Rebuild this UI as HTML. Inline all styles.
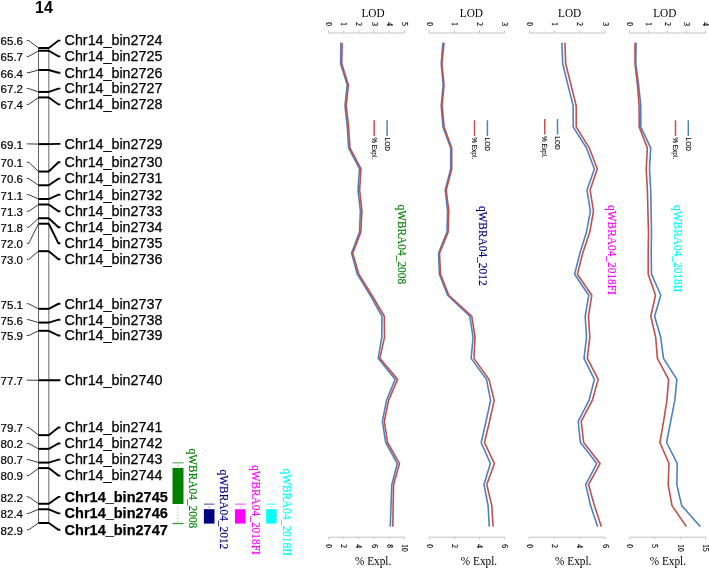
<!DOCTYPE html>
<html><head><meta charset="utf-8"><title>Linkage map chr14</title>
<style>
html,body{margin:0;padding:0;background:#fff;}
body{width:709px;height:568px;overflow:hidden;}
svg{display:block;will-change:transform;}
</style></head>
<body>
<svg width="709" height="568" viewBox="0 0 709 568">
<rect width="709" height="568" fill="#fff"/>
<text x="44" y="12.7" font-family='"Liberation Sans", sans-serif' font-weight="bold" font-size="16" text-anchor="middle">14</text>
<line x1="38.5" y1="48.00" x2="38.5" y2="523.00" stroke="#626262" stroke-width="1"/>
<line x1="48.8" y1="48.00" x2="48.8" y2="523.00" stroke="#777" stroke-width="1.1"/>
<line x1="38.5" y1="48.00" x2="49.0" y2="48.00" stroke="#000" stroke-width="2.0"/>
<polyline points="26.8,40.60 28.8,40.60 38.5,48.00" fill="none" stroke="#222" stroke-width="0.9"/>
<polyline points="48.8,48.00 58.4,40.60 60.4,40.60" fill="none" stroke="#000" stroke-width="1.9"/>
<text x="23.0" y="45.4" font-family='"Liberation Sans", sans-serif' font-size="11.5" text-anchor="end" stroke="#000" stroke-width="0.2">65.6</text>
<text x="64.6" y="45.4" font-family='"Liberation Sans", sans-serif' font-size="14.3" stroke="#000" stroke-width="0.25">Chr14_bin2724</text>
<line x1="38.5" y1="50.75" x2="49.0" y2="50.75" stroke="#000" stroke-width="2.0"/>
<polyline points="26.8,56.40 28.8,56.40 38.5,50.75" fill="none" stroke="#222" stroke-width="0.9"/>
<polyline points="48.8,50.75 58.4,56.40 60.4,56.40" fill="none" stroke="#000" stroke-width="1.9"/>
<text x="23.0" y="61.2" font-family='"Liberation Sans", sans-serif' font-size="11.5" text-anchor="end" stroke="#000" stroke-width="0.2">65.7</text>
<text x="64.6" y="61.2" font-family='"Liberation Sans", sans-serif' font-size="14.3" stroke="#000" stroke-width="0.25">Chr14_bin2725</text>
<line x1="38.5" y1="69.97" x2="49.0" y2="69.97" stroke="#000" stroke-width="2.0"/>
<polyline points="26.8,72.70 28.8,72.70 38.5,69.97" fill="none" stroke="#222" stroke-width="0.9"/>
<polyline points="48.8,69.97 58.4,72.70 60.4,72.70" fill="none" stroke="#000" stroke-width="1.9"/>
<text x="23.0" y="77.5" font-family='"Liberation Sans", sans-serif' font-size="11.5" text-anchor="end" stroke="#000" stroke-width="0.2">66.4</text>
<text x="64.6" y="77.5" font-family='"Liberation Sans", sans-serif' font-size="14.3" stroke="#000" stroke-width="0.25">Chr14_bin2726</text>
<line x1="38.5" y1="91.93" x2="49.0" y2="91.93" stroke="#000" stroke-width="2.0"/>
<polyline points="26.8,88.60 28.8,88.60 38.5,91.93" fill="none" stroke="#222" stroke-width="0.9"/>
<polyline points="48.8,91.93 58.4,88.60 60.4,88.60" fill="none" stroke="#000" stroke-width="1.9"/>
<text x="23.0" y="93.4" font-family='"Liberation Sans", sans-serif' font-size="11.5" text-anchor="end" stroke="#000" stroke-width="0.2">67.2</text>
<text x="64.6" y="93.4" font-family='"Liberation Sans", sans-serif' font-size="14.3" stroke="#000" stroke-width="0.25">Chr14_bin2727</text>
<line x1="38.5" y1="97.42" x2="49.0" y2="97.42" stroke="#000" stroke-width="2.0"/>
<polyline points="26.8,104.40 28.8,104.40 38.5,97.42" fill="none" stroke="#222" stroke-width="0.9"/>
<polyline points="48.8,97.42 58.4,104.40 60.4,104.40" fill="none" stroke="#000" stroke-width="1.9"/>
<text x="23.0" y="109.2" font-family='"Liberation Sans", sans-serif' font-size="11.5" text-anchor="end" stroke="#000" stroke-width="0.2">67.4</text>
<text x="64.6" y="109.2" font-family='"Liberation Sans", sans-serif' font-size="14.3" stroke="#000" stroke-width="0.25">Chr14_bin2728</text>
<line x1="38.5" y1="144.10" x2="49.0" y2="144.10" stroke="#000" stroke-width="2.0"/>
<polyline points="26.8,143.90 28.8,143.90 38.5,144.10" fill="none" stroke="#222" stroke-width="0.9"/>
<polyline points="48.8,144.10 58.4,143.90 60.4,143.90" fill="none" stroke="#000" stroke-width="1.9"/>
<text x="23.0" y="148.7" font-family='"Liberation Sans", sans-serif' font-size="11.5" text-anchor="end" stroke="#000" stroke-width="0.2">69.1</text>
<text x="64.6" y="148.7" font-family='"Liberation Sans", sans-serif' font-size="14.3" stroke="#000" stroke-width="0.25">Chr14_bin2729</text>
<line x1="38.5" y1="171.55" x2="49.0" y2="171.55" stroke="#000" stroke-width="2.0"/>
<polyline points="26.8,162.30 28.8,162.30 38.5,171.55" fill="none" stroke="#222" stroke-width="0.9"/>
<polyline points="48.8,171.55 58.4,162.30 60.4,162.30" fill="none" stroke="#000" stroke-width="1.9"/>
<text x="23.0" y="167.1" font-family='"Liberation Sans", sans-serif' font-size="11.5" text-anchor="end" stroke="#000" stroke-width="0.2">70.1</text>
<text x="64.6" y="167.1" font-family='"Liberation Sans", sans-serif' font-size="14.3" stroke="#000" stroke-width="0.25">Chr14_bin2730</text>
<line x1="38.5" y1="185.28" x2="49.0" y2="185.28" stroke="#000" stroke-width="2.0"/>
<polyline points="26.8,178.60 28.8,178.60 38.5,185.28" fill="none" stroke="#222" stroke-width="0.9"/>
<polyline points="48.8,185.28 58.4,178.60 60.4,178.60" fill="none" stroke="#000" stroke-width="1.9"/>
<text x="23.0" y="183.4" font-family='"Liberation Sans", sans-serif' font-size="11.5" text-anchor="end" stroke="#000" stroke-width="0.2">70.6</text>
<text x="64.6" y="183.4" font-family='"Liberation Sans", sans-serif' font-size="14.3" stroke="#000" stroke-width="0.25">Chr14_bin2731</text>
<line x1="38.5" y1="199.01" x2="49.0" y2="199.01" stroke="#000" stroke-width="2.0"/>
<polyline points="26.8,194.70 28.8,194.70 38.5,199.01" fill="none" stroke="#222" stroke-width="0.9"/>
<polyline points="48.8,199.01 58.4,194.70 60.4,194.70" fill="none" stroke="#000" stroke-width="1.9"/>
<text x="23.0" y="199.5" font-family='"Liberation Sans", sans-serif' font-size="11.5" text-anchor="end" stroke="#000" stroke-width="0.2">71.1</text>
<text x="64.6" y="199.5" font-family='"Liberation Sans", sans-serif' font-size="14.3" stroke="#000" stroke-width="0.25">Chr14_bin2732</text>
<line x1="38.5" y1="204.50" x2="49.0" y2="204.50" stroke="#000" stroke-width="2.0"/>
<polyline points="26.8,211.20 28.8,211.20 38.5,204.50" fill="none" stroke="#222" stroke-width="0.9"/>
<polyline points="48.8,204.50 58.4,211.20 60.4,211.20" fill="none" stroke="#000" stroke-width="1.9"/>
<text x="23.0" y="216.0" font-family='"Liberation Sans", sans-serif' font-size="11.5" text-anchor="end" stroke="#000" stroke-width="0.2">71.3</text>
<text x="64.6" y="216.0" font-family='"Liberation Sans", sans-serif' font-size="14.3" stroke="#000" stroke-width="0.25">Chr14_bin2733</text>
<line x1="38.5" y1="218.23" x2="49.0" y2="218.23" stroke="#000" stroke-width="2.0"/>
<polyline points="26.8,227.20 28.8,227.20 38.5,218.23" fill="none" stroke="#222" stroke-width="0.9"/>
<polyline points="48.8,218.23 58.4,227.20 60.4,227.20" fill="none" stroke="#000" stroke-width="1.9"/>
<text x="23.0" y="232.0" font-family='"Liberation Sans", sans-serif' font-size="11.5" text-anchor="end" stroke="#000" stroke-width="0.2">71.8</text>
<text x="64.6" y="232.0" font-family='"Liberation Sans", sans-serif' font-size="14.3" stroke="#000" stroke-width="0.25">Chr14_bin2734</text>
<line x1="38.5" y1="223.72" x2="49.0" y2="223.72" stroke="#000" stroke-width="2.0"/>
<polyline points="26.8,243.30 28.8,243.30 38.5,223.72" fill="none" stroke="#222" stroke-width="0.9"/>
<polyline points="48.8,223.72 58.4,243.30 60.4,243.30" fill="none" stroke="#000" stroke-width="1.9"/>
<text x="23.0" y="248.1" font-family='"Liberation Sans", sans-serif' font-size="11.5" text-anchor="end" stroke="#000" stroke-width="0.2">72.0</text>
<text x="64.6" y="248.1" font-family='"Liberation Sans", sans-serif' font-size="14.3" stroke="#000" stroke-width="0.25">Chr14_bin2735</text>
<line x1="38.5" y1="251.18" x2="49.0" y2="251.18" stroke="#000" stroke-width="2.0"/>
<polyline points="26.8,259.30 28.8,259.30 38.5,251.18" fill="none" stroke="#222" stroke-width="0.9"/>
<polyline points="48.8,251.18 58.4,259.30 60.4,259.30" fill="none" stroke="#000" stroke-width="1.9"/>
<text x="23.0" y="264.1" font-family='"Liberation Sans", sans-serif' font-size="11.5" text-anchor="end" stroke="#000" stroke-width="0.2">73.0</text>
<text x="64.6" y="264.1" font-family='"Liberation Sans", sans-serif' font-size="14.3" stroke="#000" stroke-width="0.25">Chr14_bin2736</text>
<line x1="38.5" y1="308.84" x2="49.0" y2="308.84" stroke="#000" stroke-width="2.0"/>
<polyline points="26.8,303.80 28.8,303.80 38.5,308.84" fill="none" stroke="#222" stroke-width="0.9"/>
<polyline points="48.8,308.84 58.4,303.80 60.4,303.80" fill="none" stroke="#000" stroke-width="1.9"/>
<text x="23.0" y="308.6" font-family='"Liberation Sans", sans-serif' font-size="11.5" text-anchor="end" stroke="#000" stroke-width="0.2">75.1</text>
<text x="64.6" y="308.6" font-family='"Liberation Sans", sans-serif' font-size="14.3" stroke="#000" stroke-width="0.25">Chr14_bin2737</text>
<line x1="38.5" y1="322.57" x2="49.0" y2="322.57" stroke="#000" stroke-width="2.0"/>
<polyline points="26.8,319.70 28.8,319.70 38.5,322.57" fill="none" stroke="#222" stroke-width="0.9"/>
<polyline points="48.8,322.57 58.4,319.70 60.4,319.70" fill="none" stroke="#000" stroke-width="1.9"/>
<text x="23.0" y="324.5" font-family='"Liberation Sans", sans-serif' font-size="11.5" text-anchor="end" stroke="#000" stroke-width="0.2">75.6</text>
<text x="64.6" y="324.5" font-family='"Liberation Sans", sans-serif' font-size="14.3" stroke="#000" stroke-width="0.25">Chr14_bin2738</text>
<line x1="38.5" y1="330.80" x2="49.0" y2="330.80" stroke="#000" stroke-width="2.0"/>
<polyline points="26.8,335.50 28.8,335.50 38.5,330.80" fill="none" stroke="#222" stroke-width="0.9"/>
<polyline points="48.8,330.80 58.4,335.50 60.4,335.50" fill="none" stroke="#000" stroke-width="1.9"/>
<text x="23.0" y="340.3" font-family='"Liberation Sans", sans-serif' font-size="11.5" text-anchor="end" stroke="#000" stroke-width="0.2">75.9</text>
<text x="64.6" y="340.3" font-family='"Liberation Sans", sans-serif' font-size="14.3" stroke="#000" stroke-width="0.25">Chr14_bin2739</text>
<line x1="38.5" y1="380.23" x2="49.0" y2="380.23" stroke="#000" stroke-width="2.0"/>
<polyline points="26.8,380.20 28.8,380.20 38.5,380.23" fill="none" stroke="#222" stroke-width="0.9"/>
<polyline points="48.8,380.23 58.4,380.20 60.4,380.20" fill="none" stroke="#000" stroke-width="1.9"/>
<text x="23.0" y="385.0" font-family='"Liberation Sans", sans-serif' font-size="11.5" text-anchor="end" stroke="#000" stroke-width="0.2">77.7</text>
<text x="64.6" y="385.0" font-family='"Liberation Sans", sans-serif' font-size="14.3" stroke="#000" stroke-width="0.25">Chr14_bin2740</text>
<line x1="38.5" y1="435.14" x2="49.0" y2="435.14" stroke="#000" stroke-width="2.0"/>
<polyline points="26.8,427.50 28.8,427.50 38.5,435.14" fill="none" stroke="#222" stroke-width="0.9"/>
<polyline points="48.8,435.14 58.4,427.50 60.4,427.50" fill="none" stroke="#000" stroke-width="1.9"/>
<text x="23.0" y="432.3" font-family='"Liberation Sans", sans-serif' font-size="11.5" text-anchor="end" stroke="#000" stroke-width="0.2">79.7</text>
<text x="64.6" y="432.3" font-family='"Liberation Sans", sans-serif' font-size="14.3" stroke="#000" stroke-width="0.25">Chr14_bin2741</text>
<line x1="38.5" y1="448.87" x2="49.0" y2="448.87" stroke="#000" stroke-width="2.0"/>
<polyline points="26.8,443.50 28.8,443.50 38.5,448.87" fill="none" stroke="#222" stroke-width="0.9"/>
<polyline points="48.8,448.87 58.4,443.50 60.4,443.50" fill="none" stroke="#000" stroke-width="1.9"/>
<text x="23.0" y="448.3" font-family='"Liberation Sans", sans-serif' font-size="11.5" text-anchor="end" stroke="#000" stroke-width="0.2">80.2</text>
<text x="64.6" y="448.3" font-family='"Liberation Sans", sans-serif' font-size="14.3" stroke="#000" stroke-width="0.25">Chr14_bin2742</text>
<line x1="38.5" y1="462.60" x2="49.0" y2="462.60" stroke="#000" stroke-width="2.0"/>
<polyline points="26.8,459.60 28.8,459.60 38.5,462.60" fill="none" stroke="#222" stroke-width="0.9"/>
<polyline points="48.8,462.60 58.4,459.60 60.4,459.60" fill="none" stroke="#000" stroke-width="1.9"/>
<text x="23.0" y="464.4" font-family='"Liberation Sans", sans-serif' font-size="11.5" text-anchor="end" stroke="#000" stroke-width="0.2">80.7</text>
<text x="64.6" y="464.4" font-family='"Liberation Sans", sans-serif' font-size="14.3" stroke="#000" stroke-width="0.25">Chr14_bin2743</text>
<line x1="38.5" y1="468.09" x2="49.0" y2="468.09" stroke="#000" stroke-width="2.0"/>
<polyline points="26.8,475.60 28.8,475.60 38.5,468.09" fill="none" stroke="#222" stroke-width="0.9"/>
<polyline points="48.8,468.09 58.4,475.60 60.4,475.60" fill="none" stroke="#000" stroke-width="1.9"/>
<text x="23.0" y="480.4" font-family='"Liberation Sans", sans-serif' font-size="11.5" text-anchor="end" stroke="#000" stroke-width="0.2">80.9</text>
<text x="64.6" y="480.4" font-family='"Liberation Sans", sans-serif' font-size="14.3" stroke="#000" stroke-width="0.25">Chr14_bin2744</text>
<line x1="38.5" y1="503.78" x2="49.0" y2="503.78" stroke="#000" stroke-width="2.0"/>
<polyline points="26.8,496.90 28.8,496.90 38.5,503.78" fill="none" stroke="#222" stroke-width="0.9"/>
<polyline points="48.8,503.78 58.4,496.90 60.4,496.90" fill="none" stroke="#000" stroke-width="1.9"/>
<text x="23.0" y="501.7" font-family='"Liberation Sans", sans-serif' font-size="11.5" text-anchor="end" stroke="#000" stroke-width="0.2">82.2</text>
<text x="64.6" y="501.7" font-family='"Liberation Sans", sans-serif' font-size="14.5" font-weight="bold" stroke="#000" stroke-width="0.25">Chr14_bin2745</text>
<line x1="38.5" y1="509.27" x2="49.0" y2="509.27" stroke="#000" stroke-width="2.0"/>
<polyline points="26.8,513.40 28.8,513.40 38.5,509.27" fill="none" stroke="#222" stroke-width="0.9"/>
<polyline points="48.8,509.27 58.4,513.40 60.4,513.40" fill="none" stroke="#000" stroke-width="1.9"/>
<text x="23.0" y="518.2" font-family='"Liberation Sans", sans-serif' font-size="11.5" text-anchor="end" stroke="#000" stroke-width="0.2">82.4</text>
<text x="64.6" y="518.2" font-family='"Liberation Sans", sans-serif' font-size="14.5" font-weight="bold" stroke="#000" stroke-width="0.25">Chr14_bin2746</text>
<line x1="38.5" y1="523.00" x2="49.0" y2="523.00" stroke="#000" stroke-width="2.0"/>
<polyline points="26.8,529.70 28.8,529.70 38.5,523.00" fill="none" stroke="#222" stroke-width="0.9"/>
<polyline points="48.8,523.00 58.4,529.70 60.4,529.70" fill="none" stroke="#000" stroke-width="1.9"/>
<text x="23.0" y="534.5" font-family='"Liberation Sans", sans-serif' font-size="11.5" text-anchor="end" stroke="#000" stroke-width="0.2">82.9</text>
<text x="64.6" y="534.5" font-family='"Liberation Sans", sans-serif' font-size="14.5" font-weight="bold" stroke="#000" stroke-width="0.25">Chr14_bin2747</text>
<line x1="172.5" y1="462.8" x2="183.5" y2="462.8" stroke="#008000" stroke-opacity="0.5" stroke-width="1.5"/>
<rect x="177.50" y="465.20" width="1" height="1" fill="#008000" fill-opacity="0.7"/>
<rect x="172.5" y="467.9" width="11.00" height="36.10" fill="#008000"/>
<rect x="177.50" y="506.40" width="1" height="1" fill="#008000" fill-opacity="0.45"/>
<rect x="177.50" y="509.30" width="1" height="1" fill="#008000" fill-opacity="0.45"/>
<rect x="177.50" y="512.20" width="1" height="1" fill="#008000" fill-opacity="0.45"/>
<rect x="177.50" y="515.10" width="1" height="1" fill="#008000" fill-opacity="0.45"/>
<rect x="177.50" y="518.00" width="1" height="1" fill="#008000" fill-opacity="0.45"/>
<rect x="177.50" y="520.90" width="1" height="1" fill="#008000" fill-opacity="0.45"/>
<line x1="172.5" y1="523.5" x2="183.5" y2="523.5" stroke="#008000" stroke-opacity="0.8" stroke-width="1.3"/>
<line x1="203.9" y1="504.2" x2="214.5" y2="504.2" stroke="#000080" stroke-opacity="0.5" stroke-width="1.5"/>
<rect x="208.70" y="506.60" width="1" height="1" fill="#000080" fill-opacity="0.7"/>
<rect x="203.9" y="509.2" width="10.60" height="14.40" fill="#000080"/>
<line x1="235.0" y1="504.2" x2="245.5" y2="504.2" stroke="#ff00ff" stroke-opacity="0.5" stroke-width="1.5"/>
<rect x="239.75" y="506.60" width="1" height="1" fill="#ff00ff" fill-opacity="0.7"/>
<rect x="235.0" y="509.2" width="10.50" height="14.40" fill="#ff00ff"/>
<line x1="266.2" y1="504.2" x2="276.6" y2="504.2" stroke="#00ffff" stroke-opacity="0.5" stroke-width="1.5"/>
<rect x="270.90" y="506.60" width="1" height="1" fill="#00ffff" fill-opacity="0.7"/>
<rect x="266.2" y="509.2" width="10.40" height="14.40" fill="#00ffff"/>
<text transform="translate(193.00,448.60) rotate(90) scale(1,1.05)" font-family='"Liberation Serif", serif' font-size="11.4" fill="#008000" stroke="#008000" stroke-width="0.15" text-anchor="start" dominant-baseline="central">qWBRA04_2008</text>
<text transform="translate(223.80,469.60) rotate(90) scale(1,1.05)" font-family='"Liberation Serif", serif' font-size="11.4" fill="#000080" stroke="#000080" stroke-width="0.15" text-anchor="start" dominant-baseline="central">qWBRA04_2012</text>
<text transform="translate(255.60,465.00) rotate(90) scale(1,1.05)" font-family='"Liberation Serif", serif' font-size="11.4" fill="#ff00ff" stroke="#ff00ff" stroke-width="0.15" text-anchor="start" dominant-baseline="central">qWBRA04_2018FI</text>
<text transform="translate(286.80,468.50) rotate(90) scale(1,1.05)" font-family='"Liberation Serif", serif' font-size="11.4" fill="#00ffff" stroke="#00ffff" stroke-width="0.15" text-anchor="start" dominant-baseline="central">qWBRA04_2018II</text>
<line x1="328.6" y1="33.0" x2="404.5" y2="33.0" stroke="#c4c4c4" stroke-width="1"/>
<line x1="328.60" y1="30.4" x2="328.60" y2="33.0" stroke="#c4c4c4" stroke-width="1"/>
<text transform="translate(328.60,26.0) rotate(90)" font-family='"Liberation Serif", serif' font-size="7.4" fill="#000" stroke="#000" stroke-width="0.2" text-anchor="end" dominant-baseline="central">0</text>
<line x1="343.78" y1="30.4" x2="343.78" y2="33.0" stroke="#c4c4c4" stroke-width="1"/>
<text transform="translate(343.78,26.0) rotate(90)" font-family='"Liberation Serif", serif' font-size="7.4" fill="#000" stroke="#000" stroke-width="0.2" text-anchor="end" dominant-baseline="central">1</text>
<line x1="358.96" y1="30.4" x2="358.96" y2="33.0" stroke="#c4c4c4" stroke-width="1"/>
<text transform="translate(358.96,26.0) rotate(90)" font-family='"Liberation Serif", serif' font-size="7.4" fill="#000" stroke="#000" stroke-width="0.2" text-anchor="end" dominant-baseline="central">2</text>
<line x1="374.14" y1="30.4" x2="374.14" y2="33.0" stroke="#c4c4c4" stroke-width="1"/>
<text transform="translate(374.14,26.0) rotate(90)" font-family='"Liberation Serif", serif' font-size="7.4" fill="#000" stroke="#000" stroke-width="0.2" text-anchor="end" dominant-baseline="central">3</text>
<line x1="389.32" y1="30.4" x2="389.32" y2="33.0" stroke="#c4c4c4" stroke-width="1"/>
<text transform="translate(389.32,26.0) rotate(90)" font-family='"Liberation Serif", serif' font-size="7.4" fill="#000" stroke="#000" stroke-width="0.2" text-anchor="end" dominant-baseline="central">4</text>
<line x1="404.50" y1="30.4" x2="404.50" y2="33.0" stroke="#c4c4c4" stroke-width="1"/>
<text transform="translate(404.50,26.0) rotate(90)" font-family='"Liberation Serif", serif' font-size="7.4" fill="#000" stroke="#000" stroke-width="0.2" text-anchor="end" dominant-baseline="central">5</text>
<text transform="translate(373.00,17.1) scale(1,1.09)" font-family='"Liberation Serif", serif' font-size="11.3" fill="#000" text-anchor="middle">LOD</text>
<line x1="328.6" y1="537.2" x2="404.5" y2="537.2" stroke="#c4c4c4" stroke-width="1"/>
<line x1="328.60" y1="537.2" x2="328.60" y2="539.4000000000001" stroke="#c4c4c4" stroke-width="1"/>
<text transform="translate(328.60,544.3) rotate(90)" font-family='"Liberation Serif", serif' font-size="7.4" fill="#000" stroke="#000" stroke-width="0.2" text-anchor="start" dominant-baseline="central">0</text>
<line x1="343.78" y1="537.2" x2="343.78" y2="539.4000000000001" stroke="#c4c4c4" stroke-width="1"/>
<text transform="translate(343.78,544.3) rotate(90)" font-family='"Liberation Serif", serif' font-size="7.4" fill="#000" stroke="#000" stroke-width="0.2" text-anchor="start" dominant-baseline="central">2</text>
<line x1="358.96" y1="537.2" x2="358.96" y2="539.4000000000001" stroke="#c4c4c4" stroke-width="1"/>
<text transform="translate(358.96,544.3) rotate(90)" font-family='"Liberation Serif", serif' font-size="7.4" fill="#000" stroke="#000" stroke-width="0.2" text-anchor="start" dominant-baseline="central">4</text>
<line x1="374.14" y1="537.2" x2="374.14" y2="539.4000000000001" stroke="#c4c4c4" stroke-width="1"/>
<text transform="translate(374.14,544.3) rotate(90)" font-family='"Liberation Serif", serif' font-size="7.4" fill="#000" stroke="#000" stroke-width="0.2" text-anchor="start" dominant-baseline="central">6</text>
<line x1="389.32" y1="537.2" x2="389.32" y2="539.4000000000001" stroke="#c4c4c4" stroke-width="1"/>
<text transform="translate(389.32,544.3) rotate(90)" font-family='"Liberation Serif", serif' font-size="7.4" fill="#000" stroke="#000" stroke-width="0.2" text-anchor="start" dominant-baseline="central">8</text>
<line x1="404.50" y1="537.2" x2="404.50" y2="539.4000000000001" stroke="#c4c4c4" stroke-width="1"/>
<text transform="translate(404.50,544.3) rotate(90)" font-family='"Liberation Serif", serif' font-size="7.4" fill="#000" stroke="#000" stroke-width="0.2" text-anchor="start" dominant-baseline="central">10</text>
<text transform="translate(373.10,564.7) scale(1,1.1)" font-family='"Liberation Serif", serif' font-size="11.3" fill="#000" text-anchor="middle">% Expl.</text>
<line x1="374.2" y1="120.3" x2="374.2" y2="135.90" stroke="#c0504d" stroke-width="1.5"/>
<line x1="387.1" y1="120.3" x2="387.1" y2="135.90" stroke="#4f81bd" stroke-width="1.5"/>
<text transform="translate(374.20,137.20) rotate(90)" font-family='"Liberation Sans", sans-serif' font-size="6.5" fill="#111" stroke="#111" stroke-width="0.12" dominant-baseline="central">% Expl.</text>
<text transform="translate(387.10,137.60) rotate(90)" font-family='"Liberation Sans", sans-serif' font-size="6.5" fill="#111" stroke="#111" stroke-width="0.12" dominant-baseline="central">LOD</text>
<text transform="translate(401.80,204.50) rotate(90) scale(1,1.05)" font-family='"Liberation Serif", serif' font-size="11.4" fill="#008000" stroke="#008000" stroke-width="0.15" text-anchor="start" dominant-baseline="central">qWBRA04_2008</text>
<polyline points="340.90,42.75 340.60,63.79 347.20,84.83 345.00,105.87 347.30,126.91 348.60,147.95 359.50,168.99 358.00,190.03 360.40,211.07 359.50,232.11 351.60,253.15 357.30,274.19 370.20,295.23 382.00,316.27 381.80,337.31 378.20,358.35 395.20,379.39 386.50,400.43 382.40,421.47 385.70,442.51 397.30,463.55 391.80,484.59 391.00,505.63 390.30,526.67" fill="none" stroke="#4f81bd" stroke-width="1.6" stroke-linejoin="round"/>
<polyline points="342.10,42.75 341.70,63.79 348.30,84.83 346.20,105.87 348.60,126.91 349.90,147.95 361.00,168.99 359.60,190.03 361.90,211.07 360.80,232.11 352.70,253.15 358.80,274.19 371.90,295.23 384.30,316.27 384.50,337.31 379.80,358.35 397.60,379.39 388.60,400.43 384.30,421.47 387.60,442.51 399.50,463.55 393.60,484.59 393.10,505.63 392.80,526.67" fill="none" stroke="#c0504d" stroke-width="1.6" stroke-linejoin="round"/>
<line x1="429.4" y1="33.0" x2="504.5" y2="33.0" stroke="#c4c4c4" stroke-width="1"/>
<line x1="429.40" y1="30.4" x2="429.40" y2="33.0" stroke="#c4c4c4" stroke-width="1"/>
<text transform="translate(429.40,26.0) rotate(90)" font-family='"Liberation Serif", serif' font-size="7.4" fill="#000" stroke="#000" stroke-width="0.2" text-anchor="end" dominant-baseline="central">0</text>
<line x1="454.43" y1="30.4" x2="454.43" y2="33.0" stroke="#c4c4c4" stroke-width="1"/>
<text transform="translate(454.43,26.0) rotate(90)" font-family='"Liberation Serif", serif' font-size="7.4" fill="#000" stroke="#000" stroke-width="0.2" text-anchor="end" dominant-baseline="central">1</text>
<line x1="479.47" y1="30.4" x2="479.47" y2="33.0" stroke="#c4c4c4" stroke-width="1"/>
<text transform="translate(479.47,26.0) rotate(90)" font-family='"Liberation Serif", serif' font-size="7.4" fill="#000" stroke="#000" stroke-width="0.2" text-anchor="end" dominant-baseline="central">2</text>
<line x1="504.50" y1="30.4" x2="504.50" y2="33.0" stroke="#c4c4c4" stroke-width="1"/>
<text transform="translate(504.50,26.0) rotate(90)" font-family='"Liberation Serif", serif' font-size="7.4" fill="#000" stroke="#000" stroke-width="0.2" text-anchor="end" dominant-baseline="central">3</text>
<text transform="translate(471.35,17.1) scale(1,1.09)" font-family='"Liberation Serif", serif' font-size="11.3" fill="#000" text-anchor="middle">LOD</text>
<line x1="429.4" y1="537.2" x2="504.5" y2="537.2" stroke="#c4c4c4" stroke-width="1"/>
<line x1="429.40" y1="537.2" x2="429.40" y2="539.4000000000001" stroke="#c4c4c4" stroke-width="1"/>
<text transform="translate(429.40,544.3) rotate(90)" font-family='"Liberation Serif", serif' font-size="7.4" fill="#000" stroke="#000" stroke-width="0.2" text-anchor="start" dominant-baseline="central">0</text>
<line x1="454.43" y1="537.2" x2="454.43" y2="539.4000000000001" stroke="#c4c4c4" stroke-width="1"/>
<text transform="translate(454.43,544.3) rotate(90)" font-family='"Liberation Serif", serif' font-size="7.4" fill="#000" stroke="#000" stroke-width="0.2" text-anchor="start" dominant-baseline="central">2</text>
<line x1="479.47" y1="537.2" x2="479.47" y2="539.4000000000001" stroke="#c4c4c4" stroke-width="1"/>
<text transform="translate(479.47,544.3) rotate(90)" font-family='"Liberation Serif", serif' font-size="7.4" fill="#000" stroke="#000" stroke-width="0.2" text-anchor="start" dominant-baseline="central">4</text>
<line x1="504.50" y1="537.2" x2="504.50" y2="539.4000000000001" stroke="#c4c4c4" stroke-width="1"/>
<text transform="translate(504.50,544.3) rotate(90)" font-family='"Liberation Serif", serif' font-size="7.4" fill="#000" stroke="#000" stroke-width="0.2" text-anchor="start" dominant-baseline="central">6</text>
<text transform="translate(478.95,564.7) scale(1,1.1)" font-family='"Liberation Serif", serif' font-size="11.3" fill="#000" text-anchor="middle">% Expl.</text>
<line x1="474.5" y1="120.3" x2="474.5" y2="135.90" stroke="#c0504d" stroke-width="1.5"/>
<line x1="487.4" y1="120.3" x2="487.4" y2="135.90" stroke="#4f81bd" stroke-width="1.5"/>
<text transform="translate(474.50,137.20) rotate(90)" font-family='"Liberation Sans", sans-serif' font-size="6.5" fill="#111" stroke="#111" stroke-width="0.12" dominant-baseline="central">% Expl.</text>
<text transform="translate(487.40,137.60) rotate(90)" font-family='"Liberation Sans", sans-serif' font-size="6.5" fill="#111" stroke="#111" stroke-width="0.12" dominant-baseline="central">LOD</text>
<text transform="translate(482.20,205.90) rotate(90) scale(1,1.05)" font-family='"Liberation Serif", serif' font-size="11.4" fill="#000080" stroke="#000080" stroke-width="0.15" text-anchor="start" dominant-baseline="central">qWBRA04_2012</text>
<polyline points="442.90,42.75 441.20,63.79 443.20,84.83 441.20,105.87 443.00,126.91 450.70,147.95 450.70,168.99 445.20,190.03 447.60,211.07 447.00,232.11 438.60,253.15 439.40,274.19 447.60,295.23 469.80,316.27 473.10,337.31 471.10,358.35 486.50,379.39 490.60,400.43 486.00,421.47 481.20,442.51 490.40,463.55 484.00,484.59 488.10,505.63 489.30,526.67" fill="none" stroke="#4f81bd" stroke-width="1.6" stroke-linejoin="round"/>
<polyline points="444.00,42.75 441.90,63.79 444.00,84.83 442.10,105.87 444.10,126.91 451.70,147.95 451.70,168.99 446.20,190.03 448.80,211.07 448.10,232.11 439.50,253.15 440.50,274.19 448.80,295.23 471.80,316.27 475.10,337.31 473.90,358.35 489.00,379.39 494.20,400.43 489.50,421.47 484.50,442.51 494.40,463.55 486.80,484.59 491.80,505.63 493.10,526.67" fill="none" stroke="#c0504d" stroke-width="1.6" stroke-linejoin="round"/>
<line x1="529.4" y1="33.0" x2="605.2" y2="33.0" stroke="#c4c4c4" stroke-width="1"/>
<line x1="529.40" y1="30.4" x2="529.40" y2="33.0" stroke="#c4c4c4" stroke-width="1"/>
<text transform="translate(529.40,26.0) rotate(90)" font-family='"Liberation Serif", serif' font-size="7.4" fill="#000" stroke="#000" stroke-width="0.2" text-anchor="end" dominant-baseline="central">0</text>
<line x1="554.67" y1="30.4" x2="554.67" y2="33.0" stroke="#c4c4c4" stroke-width="1"/>
<text transform="translate(554.67,26.0) rotate(90)" font-family='"Liberation Serif", serif' font-size="7.4" fill="#000" stroke="#000" stroke-width="0.2" text-anchor="end" dominant-baseline="central">1</text>
<line x1="579.93" y1="30.4" x2="579.93" y2="33.0" stroke="#c4c4c4" stroke-width="1"/>
<text transform="translate(579.93,26.0) rotate(90)" font-family='"Liberation Serif", serif' font-size="7.4" fill="#000" stroke="#000" stroke-width="0.2" text-anchor="end" dominant-baseline="central">2</text>
<line x1="605.20" y1="30.4" x2="605.20" y2="33.0" stroke="#c4c4c4" stroke-width="1"/>
<text transform="translate(605.20,26.0) rotate(90)" font-family='"Liberation Serif", serif' font-size="7.4" fill="#000" stroke="#000" stroke-width="0.2" text-anchor="end" dominant-baseline="central">3</text>
<text transform="translate(569.60,17.1) scale(1,1.09)" font-family='"Liberation Serif", serif' font-size="11.3" fill="#000" text-anchor="middle">LOD</text>
<line x1="529.4" y1="537.2" x2="605.2" y2="537.2" stroke="#c4c4c4" stroke-width="1"/>
<line x1="529.40" y1="537.2" x2="529.40" y2="539.4000000000001" stroke="#c4c4c4" stroke-width="1"/>
<text transform="translate(529.40,544.3) rotate(90)" font-family='"Liberation Serif", serif' font-size="7.4" fill="#000" stroke="#000" stroke-width="0.2" text-anchor="start" dominant-baseline="central">0</text>
<line x1="554.67" y1="537.2" x2="554.67" y2="539.4000000000001" stroke="#c4c4c4" stroke-width="1"/>
<text transform="translate(554.67,544.3) rotate(90)" font-family='"Liberation Serif", serif' font-size="7.4" fill="#000" stroke="#000" stroke-width="0.2" text-anchor="start" dominant-baseline="central">2</text>
<line x1="579.93" y1="537.2" x2="579.93" y2="539.4000000000001" stroke="#c4c4c4" stroke-width="1"/>
<text transform="translate(579.93,544.3) rotate(90)" font-family='"Liberation Serif", serif' font-size="7.4" fill="#000" stroke="#000" stroke-width="0.2" text-anchor="start" dominant-baseline="central">4</text>
<line x1="605.20" y1="537.2" x2="605.20" y2="539.4000000000001" stroke="#c4c4c4" stroke-width="1"/>
<text transform="translate(605.20,544.3) rotate(90)" font-family='"Liberation Serif", serif' font-size="7.4" fill="#000" stroke="#000" stroke-width="0.2" text-anchor="start" dominant-baseline="central">6</text>
<text transform="translate(573.20,564.7) scale(1,1.1)" font-family='"Liberation Serif", serif' font-size="11.3" fill="#000" text-anchor="middle">% Expl.</text>
<line x1="544.8" y1="119.0" x2="544.8" y2="134.60" stroke="#c0504d" stroke-width="1.5"/>
<line x1="557.5" y1="119.0" x2="557.5" y2="134.60" stroke="#4f81bd" stroke-width="1.5"/>
<text transform="translate(544.80,135.90) rotate(90)" font-family='"Liberation Sans", sans-serif' font-size="6.5" fill="#111" stroke="#111" stroke-width="0.12" dominant-baseline="central">% Expl.</text>
<text transform="translate(557.50,136.30) rotate(90)" font-family='"Liberation Sans", sans-serif' font-size="6.5" fill="#111" stroke="#111" stroke-width="0.12" dominant-baseline="central">LOD</text>
<text transform="translate(611.30,205.10) rotate(90) scale(1,1.05)" font-family='"Liberation Serif", serif' font-size="11.4" fill="#ff00ff" stroke="#ff00ff" stroke-width="0.15" text-anchor="start" dominant-baseline="central">qWBRA04_2018FI</text>
<polyline points="561.90,42.75 562.70,63.79 567.90,84.83 573.20,105.87 573.20,126.91 586.50,147.95 594.40,168.99 587.00,190.03 590.40,211.07 586.50,232.11 579.90,253.15 574.60,274.19 588.80,295.23 585.20,316.27 586.50,337.31 584.00,358.35 594.40,379.39 589.00,400.43 578.20,421.47 580.40,442.51 596.80,463.55 585.70,484.59 590.60,505.63 597.70,526.67" fill="none" stroke="#4f81bd" stroke-width="1.6" stroke-linejoin="round"/>
<polyline points="564.90,42.75 565.70,63.79 571.00,84.83 576.20,105.87 576.20,126.91 589.30,147.95 597.30,168.99 590.10,190.03 593.50,211.07 589.80,232.11 582.70,253.15 577.40,274.19 591.80,295.23 588.50,316.27 589.80,337.31 587.30,358.35 598.20,379.39 592.30,400.43 581.20,421.47 583.70,442.51 600.10,463.55 588.50,484.59 594.40,505.63 601.40,526.67" fill="none" stroke="#c0504d" stroke-width="1.6" stroke-linejoin="round"/>
<line x1="629.6" y1="33.0" x2="705.7" y2="33.0" stroke="#c4c4c4" stroke-width="1"/>
<line x1="629.60" y1="30.4" x2="629.60" y2="33.0" stroke="#c4c4c4" stroke-width="1"/>
<text transform="translate(629.60,26.0) rotate(90)" font-family='"Liberation Serif", serif' font-size="7.4" fill="#000" stroke="#000" stroke-width="0.2" text-anchor="end" dominant-baseline="central">0</text>
<line x1="648.62" y1="30.4" x2="648.62" y2="33.0" stroke="#c4c4c4" stroke-width="1"/>
<text transform="translate(648.62,26.0) rotate(90)" font-family='"Liberation Serif", serif' font-size="7.4" fill="#000" stroke="#000" stroke-width="0.2" text-anchor="end" dominant-baseline="central">1</text>
<line x1="667.65" y1="30.4" x2="667.65" y2="33.0" stroke="#c4c4c4" stroke-width="1"/>
<text transform="translate(667.65,26.0) rotate(90)" font-family='"Liberation Serif", serif' font-size="7.4" fill="#000" stroke="#000" stroke-width="0.2" text-anchor="end" dominant-baseline="central">2</text>
<line x1="686.68" y1="30.4" x2="686.68" y2="33.0" stroke="#c4c4c4" stroke-width="1"/>
<text transform="translate(686.68,26.0) rotate(90)" font-family='"Liberation Serif", serif' font-size="7.4" fill="#000" stroke="#000" stroke-width="0.2" text-anchor="end" dominant-baseline="central">3</text>
<line x1="705.70" y1="30.4" x2="705.70" y2="33.0" stroke="#c4c4c4" stroke-width="1"/>
<text transform="translate(705.70,26.0) rotate(90)" font-family='"Liberation Serif", serif' font-size="7.4" fill="#000" stroke="#000" stroke-width="0.2" text-anchor="end" dominant-baseline="central">4</text>
<text transform="translate(664.80,17.1) scale(1,1.09)" font-family='"Liberation Serif", serif' font-size="11.3" fill="#000" text-anchor="middle">LOD</text>
<line x1="629.6" y1="537.2" x2="705.7" y2="537.2" stroke="#c4c4c4" stroke-width="1"/>
<line x1="629.60" y1="537.2" x2="629.60" y2="539.4000000000001" stroke="#c4c4c4" stroke-width="1"/>
<text transform="translate(629.60,544.3) rotate(90)" font-family='"Liberation Serif", serif' font-size="7.4" fill="#000" stroke="#000" stroke-width="0.2" text-anchor="start" dominant-baseline="central">0</text>
<line x1="654.97" y1="537.2" x2="654.97" y2="539.4000000000001" stroke="#c4c4c4" stroke-width="1"/>
<text transform="translate(654.97,544.3) rotate(90)" font-family='"Liberation Serif", serif' font-size="7.4" fill="#000" stroke="#000" stroke-width="0.2" text-anchor="start" dominant-baseline="central">5</text>
<line x1="680.33" y1="537.2" x2="680.33" y2="539.4000000000001" stroke="#c4c4c4" stroke-width="1"/>
<text transform="translate(680.33,544.3) rotate(90)" font-family='"Liberation Serif", serif' font-size="7.4" fill="#000" stroke="#000" stroke-width="0.2" text-anchor="start" dominant-baseline="central">10</text>
<line x1="705.70" y1="537.2" x2="705.70" y2="539.4000000000001" stroke="#c4c4c4" stroke-width="1"/>
<text transform="translate(705.70,544.3) rotate(90)" font-family='"Liberation Serif", serif' font-size="7.4" fill="#000" stroke="#000" stroke-width="0.2" text-anchor="start" dominant-baseline="central">15</text>
<text transform="translate(667.85,564.7) scale(1,1.1)" font-family='"Liberation Serif", serif' font-size="11.3" fill="#000" text-anchor="middle">% Expl.</text>
<line x1="675.5" y1="120.3" x2="675.5" y2="135.90" stroke="#c0504d" stroke-width="1.5"/>
<line x1="688.3" y1="120.3" x2="688.3" y2="135.90" stroke="#4f81bd" stroke-width="1.5"/>
<text transform="translate(675.50,137.20) rotate(90)" font-family='"Liberation Sans", sans-serif' font-size="6.5" fill="#111" stroke="#111" stroke-width="0.12" dominant-baseline="central">% Expl.</text>
<text transform="translate(688.30,137.60) rotate(90)" font-family='"Liberation Sans", sans-serif' font-size="6.5" fill="#111" stroke="#111" stroke-width="0.12" dominant-baseline="central">LOD</text>
<text transform="translate(677.30,205.10) rotate(90) scale(1,1.05)" font-family='"Liberation Serif", serif' font-size="11.4" fill="#00ffff" stroke="#00ffff" stroke-width="0.15" text-anchor="start" dominant-baseline="central">qWBRA04_2018II</text>
<polyline points="636.10,42.75 635.80,63.79 638.60,84.83 640.80,105.87 640.80,126.91 650.70,147.95 649.50,168.99 650.70,190.03 651.10,211.07 651.50,232.11 651.20,253.15 651.50,274.19 660.80,295.23 654.60,316.27 660.70,337.31 663.50,358.35 676.90,379.39 674.80,400.43 670.70,421.47 666.60,442.51 677.30,463.55 676.80,484.59 681.70,505.63 700.40,526.67" fill="none" stroke="#4f81bd" stroke-width="1.6" stroke-linejoin="round"/>
<polyline points="635.00,42.75 635.00,63.79 637.50,84.83 639.10,105.87 639.20,126.91 647.40,147.95 646.20,168.99 647.40,190.03 647.90,211.07 648.50,232.11 648.20,253.15 648.20,274.19 655.50,295.23 650.80,316.27 655.70,337.31 657.40,358.35 668.60,379.39 666.90,400.43 663.60,421.47 659.90,442.51 669.00,463.55 668.20,484.59 672.00,505.63 686.40,526.67" fill="none" stroke="#c0504d" stroke-width="1.6" stroke-linejoin="round"/>
</svg>
</body></html>
